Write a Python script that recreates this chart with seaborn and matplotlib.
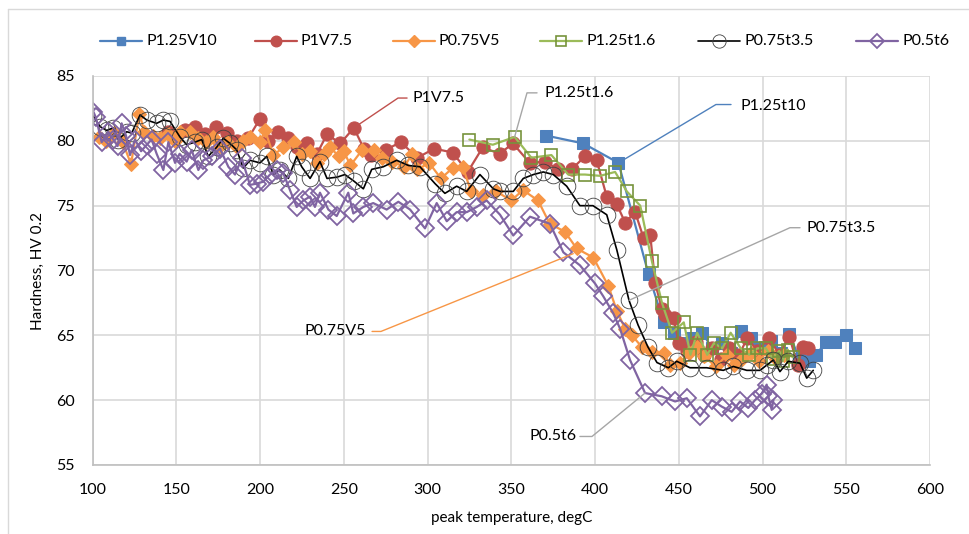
import matplotlib
matplotlib.use("Agg")
import matplotlib.pyplot as plt
import matplotlib.lines as mlines
import numpy as np
import pandas as pd
import seaborn as sns

# ---- measured hardness profiles (peak temperature in degC, hardness HV 0.2) ----
p125v10_t = [371, 393, 414, 432, 441, 447, 453, 458, 464, 470, 476, 481, 487, 493,
             499, 505, 511, 516, 522, 528, 532, 538, 543, 550, 555]
p125v10_hv = [80.4, 79.8, 78.3, 69.7, 66.0, 65.2, 64.4, 64.8, 65.2, 64.0, 64.4, 63.6, 65.3, 64.8,
              64.0, 64.6, 63.6, 65.1, 63.2, 63.0, 63.5, 64.5, 64.5, 65.0, 64.0]

p1v75_t = [145, 150, 155, 161, 167, 174, 180, 186, 193, 200, 205, 211, 217, 222, 228, 234,
           240, 248, 256, 262, 266, 275, 284, 294, 304, 315, 324, 333, 343, 351, 361, 370,
           378, 386, 394, 401, 407, 413, 418, 424, 429, 433, 436, 440, 442, 447, 450, 455,
           460, 465, 470, 475, 480, 486, 491, 497, 504, 510, 516, 521, 524, 527]
p1v75_hv = [80.7, 80.3, 80.8, 81.1, 80.5, 81.1, 80.6, 80.0, 80.2, 81.7, 80.0, 80.7, 80.2, 79.5,
            79.8, 79.0, 80.5, 79.8, 81.0, 79.4, 78.9, 79.3, 79.9, 78.7, 79.4, 79.1, 77.6, 79.5,
            79.0, 79.8, 78.3, 78.4, 77.8, 77.8, 78.8, 78.5, 75.7, 75.1, 73.7, 74.5, 72.5, 72.7,
            69.0, 67.0, 66.6, 66.3, 64.4, 63.8, 64.5, 63.5, 64.0, 63.2, 64.0, 63.5, 64.8, 63.8,
            64.8, 63.5, 64.9, 62.7, 64.1, 64.0]

p075v5_t = [104, 108, 113, 118, 123, 128, 131, 136, 140, 145, 149, 152, 158, 163, 168, 172,
            176, 180, 186, 190, 194, 200, 203, 208, 214, 220, 225, 230, 234, 238, 242, 247,
            250, 254, 261, 268, 273, 279, 286, 291, 294, 301, 308, 315, 321, 326, 333, 341,
            350, 357, 366, 373, 382, 389, 399, 408, 413, 418, 422, 428, 434, 441, 445, 451,
            456, 461, 465, 472, 479, 483, 488, 493, 498, 503, 508, 513]
p075v5_hv = [80.3, 80.0, 80.6, 79.9, 78.2, 82.1, 80.7, 80.4, 80.2, 80.5, 80.0, 80.7, 80.7, 80.2,
             79.9, 80.3, 79.6, 79.9, 79.5, 80.0, 80.3, 79.9, 80.8, 78.9, 79.5, 79.9, 79.0, 79.2,
             78.3, 79.0, 79.5, 78.8, 79.2, 78.1, 79.3, 79.3, 78.7, 78.4, 78.0, 79.0, 77.8, 78.3,
             77.1, 77.9, 78.0, 76.1, 75.8, 76.1, 75.4, 76.2, 75.4, 73.6, 73.0, 71.7, 71.0, 68.8,
             66.9, 65.5, 65.0, 64.1, 63.7, 63.6, 62.7, 62.9, 63.6, 64.1, 63.4, 62.6, 63.5, 62.7,
             63.2, 63.6, 63.0, 63.8, 63.2, 63.5]

p125t16_t = [325, 339, 352, 362, 374, 384, 394, 403, 412, 419, 427, 434, 440, 446, 453, 457,
             461, 467, 471, 476, 481, 487, 492, 497, 502, 506, 510, 512, 515, 518]
p125t16_hv = [80.1, 79.7, 80.3, 78.7, 78.9, 77.4, 77.4, 77.3, 77.6, 76.1, 75.0, 70.7, 67.5, 65.2,
              66.0, 63.5, 65.2, 63.5, 64.4, 64.0, 65.2, 64.0, 63.5, 64.0, 64.0, 63.2, 63.8, 63.0,
              63.9, 63.3]

p075t35_t = [100.5, 104.5, 108.5, 112.4, 115.4, 120.4, 123.4, 128.4, 132.4, 138.3, 142.3, 146.3,
             152.2, 156.2, 161.2, 165.2, 169.1, 174.1, 178.1, 182.1, 186.1, 190, 194, 200, 204,
             207.9, 211.9, 216.9, 221.9, 224.9, 229.9, 235.8, 240, 246, 250.7, 256, 261.7, 266.7,
             273.6, 281.6, 288.6, 295.5, 304.5, 310.4, 317.4, 323.4, 331.3, 339.3, 343.3, 351.2,
             357.2, 363.2, 369.1, 375.1, 383.1, 391, 398.8, 407, 413, 420.3, 425.7, 431.6, 437,
             443.8, 448.8, 456.7, 466.7, 476.6, 482.6, 490.6, 498.5, 502.5, 506.5, 510.4, 515.4,
             522.4, 526.4, 530.3]
p075t35_hv = [81.9, 81.1, 80.8, 81.0, 80.1, 80.7, 80.6, 82.0, 81.6, 81.35, 81.6, 81.5, 80.3, 79.7,
              79.9, 80.1, 78.8, 79.5, 80.2, 79.8, 79.3, 77.9, 78.5, 78.3, 78.8, 77.4, 77.75, 77.1,
              78.8, 78.0, 77.1, 78.4, 77.1, 77.2, 77.4, 76.9, 76.3, 77.8, 78.0, 78.5, 78.1, 78.0,
              76.7, 75.95, 76.5, 76.1, 77.4, 76.3, 76.1, 76.1, 77.1, 77.4, 77.6, 77.4, 76.5, 75.0,
              75.0, 74.3, 71.6, 67.7, 65.8, 64.1, 62.9, 62.5, 63.0, 62.5, 62.5, 62.3, 62.6, 62.3,
              62.3, 62.7, 63.1, 62.2, 63.0, 62.85, 61.7, 62.3]

p05t6_t = [100.5, 102, 105.5, 109.4, 112.4, 115, 117.4, 120, 122.4, 125.4, 129, 132.4, 135.3,
           138.3, 142.3, 145.3, 149.3, 152, 156.2, 159.2, 163.2, 166.2, 171.2, 176.1, 181.1,
           185.1, 189.1, 194, 198, 202, 206, 210, 213.9, 217.9, 221.9, 225.9, 229.9, 232.8,
           235.8, 240.8, 245.8, 252.7, 255.7, 261.7, 267.6, 275.6, 282.6, 289.6, 298.5, 305.5,
           311.5, 317.4, 323.4, 329.4, 335.3, 343.3, 351.2, 361.2, 373.1, 381.1, 391, 400, 405,
           410.9, 415, 420.9, 429.9, 439.8, 447.8, 454.8, 462.7, 469.7, 475.7, 481.6, 486.6,
           491.5, 495.5, 499.5, 502.5, 503.5, 505.5, 506.5]
p05t6_hv = [82.25, 81.8, 79.9, 80.7, 80.1, 79.6, 81.35, 80.4, 78.9, 80.1, 79.2, 79.7, 80.1, 79.0,
            77.75, 79.9, 78.3, 79.0, 78.4, 79.3, 77.75, 78.5, 78.8, 79.4, 78.0, 77.4, 78.65, 76.6,
            76.7, 76.85, 77.4, 77.75, 77.5, 76.2, 74.9, 75.4, 75.7, 74.9, 76.0, 74.7, 74.2, 76.0,
            74.4, 74.9, 75.2, 74.7, 75.3, 74.7, 73.25, 75.2, 73.8, 74.5, 74.5, 74.9, 75.4, 74.3,
            72.7, 74.15, 73.6, 71.4, 70.4, 69.0, 68.0, 66.7, 65.5, 63.1, 60.55, 60.3, 59.9, 60.15,
            58.75, 60.0, 59.5, 59.1, 59.9, 59.4, 60.0, 60.5, 61.2, 60.3, 59.25, 60.0]

legend_names = ["P1.25V10", "P1V7.5", "P0.75V5", "P1.25t1.6", "P0.75t3.5", "P0.5t6"]
x_ticks = [100, 150, 200, 250, 300, 350, 400, 450, 500, 550, 600]
y_ticks = [55, 60, 65, 70, 75, 80, 85]

sns.set_theme(style="white")
plt.rcParams["font.family"] = ["Lato", "DejaVu Sans"]

W, H = 969, 534
fig = plt.figure(figsize=(W / 100, H / 100), dpi=100)
ax = fig.add_axes([92.5 / W, 1 - 465 / H, (930 - 92.5) / W, (465 - 76) / H])

BLUE, RED, ORANGE = "#4F81BD", "#C0504D", "#F79646"
GREEN, BLACK, PURPLE = "#9BBB59", "#000000", "#8064A2"

series = [
    (p125v10_t, p125v10_hv, dict(color=BLUE, marker="s", markersize=8, markerfacecolor=BLUE,
                                 markeredgecolor=BLUE, linewidth=1.6)),
    (p1v75_t, p1v75_hv, dict(color=RED, marker="o", markersize=9.5, markerfacecolor=RED,
                             markeredgecolor=RED, linewidth=1.6)),
    (p075v5_t, p075v5_hv, dict(color=ORANGE, marker="D", markersize=7.5, markerfacecolor=ORANGE,
                               markeredgecolor=ORANGE, linewidth=1.6)),
    (p125t16_t, p125t16_hv, dict(color=GREEN, marker="s", markersize=8.5, markerfacecolor="none",
                                 markeredgecolor="#77933C", markeredgewidth=1.2, linewidth=1.6)),
    (p075t35_t, p075t35_hv, dict(color=BLACK, marker="o", markersize=12, markerfacecolor="none",
                                 markeredgecolor="#404040", markeredgewidth=0.6, linewidth=1.2)),
    (p05t6_t, p05t6_hv, dict(color=PURPLE, marker="D", markersize=9, markerfacecolor="none",
                             markeredgecolor=PURPLE, markeredgewidth=1.3, linewidth=1.6)),
]

for (t, hv, style), name in zip(series, legend_names):
    df = pd.DataFrame({"temp": t, "hv": hv})
    sns.lineplot(data=df, x="temp", y="hv", ax=ax, sort=False, estimator=None,
                 legend=False, **style)

# callout labels with leader lines
GREY = "#A6A6A6"
FS = 11.5
callouts = [
    ("P1V7.5", RED, [(256, 81.0), (282.4, 83.3), (287.8, 83.3)], (291.3, 83.3), "left"),
    ("P1.25t1.6", GREY, [(352, 80.3), (359.4, 83.7), (365.4, 83.7)], (370.1, 83.7), "left"),
    ("P1.25t10", BLUE, [(414, 78.3), (472.2, 82.8), (481.2, 82.8)], (486.6, 82.7), "left"),
    ("P0.75t3.5", GREY, [(420.3, 67.7), (516.4, 73.3), (522.4, 73.3)], (526.0, 73.3), "left"),
    ("P0.75V5", ORANGE, [(387.0, 71.3), (272.2, 65.3), (266.9, 65.3)], (263.3, 65.3), "right"),
    ("P0.5t6", GREY, [(429.9, 60.55), (398.2, 57.2), (391.0, 57.2)], (389.3, 57.2), "right"),
]
for text, col, pts, tpos, ha in callouts:
    xs, ys = zip(*pts)
    ax.add_line(mlines.Line2D(xs, ys, color=col, linewidth=1.0, zorder=5))
    ax.text(tpos[0], tpos[1], text, ha=ha, va="center", fontsize=FS, color="#000000", zorder=6)

ax.set_xlim(100, 600)
ax.set_ylim(55, 85)
ax.set_xticks(x_ticks)
ax.set_yticks(y_ticks)
ax.tick_params(axis="y", length=0, labelsize=FS, colors="#000000", pad=13)
ax.tick_params(axis="x", length=0, labelsize=FS, colors="#000000", pad=13)
ax.grid(True, color="#D9D9D9", linewidth=1.2)
ax.set_axisbelow(True)
for side in ["top", "right"]:
    ax.spines[side].set_visible(False)
for side in ["left", "bottom"]:
    ax.spines[side].set_color("#BFBFBF")
    ax.spines[side].set_linewidth(1.2)

ax.set_xlabel("peak temperature, degC", fontsize=11, color="#000000")
ax.set_ylabel("Hardness, HV 0.2", fontsize=11, color="#000000")
ax.xaxis.set_label_coords(0.5, (465 - 518) / 389)
ax.xaxis.label.set_va("center")
ax.yaxis.set_label_coords((38 - 92.5) / 837.5, 0.5)
ax.yaxis.label.set_va("center")

# legend row across the top: short line sample, centred marker, label
legend_x = [100, 255, 393, 540, 698, 856]
legend_y = 1 - 41 / H
for (t, hv, style), name, lx in zip(series, legend_names, legend_x):
    line_style = {k: v for k, v in style.items() if not k.startswith("marker")}
    fig.add_artist(mlines.Line2D([lx / W, (lx + 42) / W], [legend_y, legend_y],
                                 transform=fig.transFigure, **line_style))
    mark_style = {k: v for k, v in style.items() if k.startswith("marker")}
    mark_style["markersize"] = style["markersize"] * 0.8
    fig.add_artist(mlines.Line2D([(lx + 21) / W], [legend_y], transform=fig.transFigure,
                                 linestyle="none", **mark_style))
    fig.text((lx + 46) / W, legend_y, name, ha="left", va="center", fontsize=FS, color="#000000")

# chart frame
fig.add_artist(mlines.Line2D([8 / W, 8 / W], [0, 1 - 9 / H], transform=fig.transFigure,
                             color="#D9D9D9", linewidth=1.0))
fig.add_artist(mlines.Line2D([8 / W, 1], [1 - 9 / H, 1 - 9 / H], transform=fig.transFigure,
                             color="#D9D9D9", linewidth=1.0))

fig.savefig("out.png", dpi=100)
